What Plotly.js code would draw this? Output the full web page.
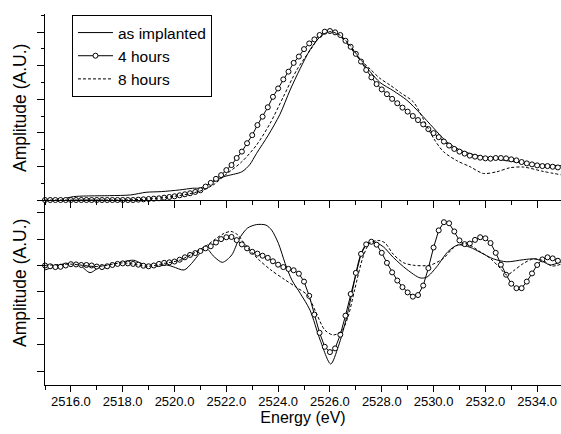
<!DOCTYPE html>
<html>
<head>
<meta charset="utf-8">
<script src="https://cdn.plot.ly/plotly-3.0.1.min.js"></script>
<style>html,body{margin:0;padding:0;background:#fff;}#chart{width:561px;height:434px;}</style>
</head>
<body>
<div id="chart"></div>
<script>
// ---- Data ----
const seriesNames = ['as implanted', '4 hours', '8 hours'];

// 4 hours: sampled points (circles), energies in eV
const energyGrid = [
 2515.0,2515.2,2515.4,2515.6,2515.8,2516.0,2516.2,2516.4,2516.6,2516.8,
 2517.0,2517.2,2517.4,2517.6,2517.8,2518.0,2518.2,2518.4,2518.6,2518.8,
 2519.0,2519.2,2519.4,2519.6,2519.8,2520.0,2520.2,2520.4,2520.6,2520.8,
 2521.0,2521.2,2521.4,2521.6,2521.8,2522.0,2522.2,2522.4,2522.6,2522.8,
 2523.0,2523.2,2523.4,2523.6,2523.8,2524.0,2524.2,2524.4,2524.6,2524.8,
 2525.0,2525.2,2525.4,2525.6,2525.8,2526.0,2526.2,2526.4,2526.6,2526.8,
 2527.0,2527.2,2527.4,2527.6,2527.8,2528.0,2528.2,2528.4,2528.6,2528.8,
 2529.0,2529.2,2529.4,2529.6,2529.8,2530.0,2530.2,2530.4,2530.6,2530.8,
 2531.0,2531.2,2531.4,2531.6,2531.8,2532.0,2532.2,2532.4,2532.6,2532.8,
 2533.0,2533.2,2533.4,2533.6,2533.8,2534.0,2534.2,2534.4,2534.6,2534.8
];
const topFourHours = [
 0.00,0.00,0.00,0.00,0.00,0.00,0.00,0.00,0.00,0.00,
 0.00,0.00,0.00,0.00,0.00,0.00,0.00,0.00,0.01,0.02,
 0.03,0.04,0.05,0.07,0.09,0.11,0.14,0.17,0.20,0.24,
 0.29,0.40,0.51,0.63,0.74,0.89,1.04,1.25,1.44,1.69,
 1.93,2.23,2.48,2.76,3.07,3.32,3.59,3.82,4.08,4.27,
 4.49,4.66,4.78,4.91,5.01,5.03,4.99,4.91,4.74,4.56,
 4.35,4.12,3.87,3.65,3.45,3.29,3.15,3.01,2.88,2.75,
 2.63,2.50,2.38,2.25,2.11,1.99,1.87,1.74,1.62,1.52,
 1.44,1.38,1.32,1.29,1.26,1.24,1.23,1.25,1.25,1.24,
 1.21,1.18,1.13,1.09,1.06,1.03,1.01,1.01,0.99,0.97
];
const botFourHours = [
 0.00,-0.03,-0.06,-0.05,0.00,0.05,0.04,0.02,0.02,0.00,
 -0.04,-0.06,-0.03,0.02,0.06,0.08,0.08,0.06,0.03,-0.01,
 -0.03,0.00,0.06,0.10,0.12,0.15,0.22,0.31,0.40,0.47,
 0.55,0.65,0.73,0.87,1.00,1.07,1.08,0.96,0.80,0.65,
 0.52,0.45,0.37,0.29,0.16,0.03,-0.06,-0.13,-0.18,-0.31,
 -0.61,-1.15,-1.86,-2.55,-3.08,-3.28,-3.14,-2.62,-1.90,-1.08,
 -0.28,0.44,0.80,0.90,0.79,0.48,0.10,-0.26,-0.57,-0.82,
 -1.02,-1.18,-1.12,-0.76,-0.10,0.68,1.33,1.64,1.60,1.29,
 0.95,0.81,0.83,0.97,1.07,1.03,0.85,0.48,0.03,-0.35,
 -0.69,-0.86,-0.86,-0.61,-0.30,0.02,0.23,0.31,0.27,0.18
];

// as implanted, top panel
const topAsImplantedE = [2515.0,2515.6,2516.1,2516.6,2517.5,2518.3,2518.9,2519.5,2520.2,2520.7,2521.0,2521.9,2522.6,2522.9,2523.17,2523.62,2524.07,2524.46,2524.85,2525.23,2525.62,2525.93,2526.26,2526.65,2527.16,2527.55,2527.93,2528.45,2528.97,2529.48,2529.99,2530.51,2531.02,2531.54,2532.05,2532.83,2533.6,2534.37,2534.92];
const topAsImplanted  = [0.00,0.02,0.10,0.12,0.13,0.15,0.23,0.25,0.30,0.35,0.36,0.69,0.84,1.05,1.39,1.93,2.55,3.27,3.91,4.47,4.86,5.01,4.96,4.66,4.17,3.82,3.50,3.25,2.97,2.58,2.15,1.73,1.49,1.35,1.26,1.17,1.09,1.04,1.02];

// 8 hours, top panel
const topEightHoursE = [2515.0,2516.0,2517.0,2518.0,2519.0,2520.0,2520.6,2521.0,2521.5,2521.87,2522.6,2523.17,2523.69,2524.2,2524.72,2525.23,2525.62,2526.0,2526.4,2526.8,2527.2,2527.55,2527.93,2528.32,2528.71,2529.22,2529.61,2529.99,2530.38,2530.9,2531.41,2531.92,2532.44,2532.95,2533.47,2534.24,2534.92];
const topEightHours  = [0.00,0.00,0.00,0.00,0.03,0.11,0.19,0.27,0.45,0.69,1.14,1.64,2.28,3.07,3.87,4.45,4.86,5.01,4.90,4.58,4.16,3.90,3.62,3.42,3.20,2.92,2.40,1.85,1.44,1.17,0.99,0.79,0.84,0.96,0.98,0.85,0.75];

// as implanted, bottom panel
const botAsImplantedE = [2515.0,2515.84,2516.35,2516.74,2517.12,2517.51,2518.41,2518.67,2519.17,2519.7,2519.95,2520.37,2520.66,2520.98,2521.22,2521.53,2521.85,2522.21,2522.49,2522.82,2523.17,2523.53,2523.75,2524.01,2524.27,2524.53,2524.85,2525.23,2525.62,2526.03,2526.32,2526.65,2526.9,2527.16,2527.42,2527.68,2528.06,2528.45,2528.97,2529.48,2529.74,2530.12,2530.56,2530.95,2531.41,2531.8,2532.31,2532.83,2533.47,2533.92,2534.24,2534.5,2534.92];
const botAsImplanted  = [-0.17,0.08,0.00,-0.27,-0.05,0.02,0.20,0.10,-0.05,0.02,-0.05,-0.17,0.08,0.46,0.65,0.33,0.12,0.40,1.00,1.42,1.55,1.53,1.34,0.84,0.08,-0.55,-1.05,-1.69,-2.82,-3.73,-3.08,-1.94,-0.80,0.33,0.84,0.90,0.71,0.30,-0.15,-0.47,-0.44,-0.05,0.53,0.78,0.69,0.50,0.25,0.14,0.22,0.25,0.14,0.02,0.14];

// 8 hours, bottom panel
const botEightHoursE = [2515.0,2516.0,2517.0,2518.0,2519.0,2519.6,2520.2,2520.8,2521.3,2521.53,2521.92,2522.18,2522.44,2522.69,2523.2,2523.72,2524.23,2524.74,2525.13,2525.47,2525.8,2526.12,2526.44,2526.7,2526.95,2527.28,2527.53,2527.86,2528.12,2528.45,2528.83,2529.22,2529.86,2530.38,2530.69,2530.9,2531.28,2531.8,2532.19,2532.57,2532.83,2533.09,2533.47,2533.86,2534.24,2534.57,2534.92];
const botEightHours  = [0.00,0.05,-0.04,0.10,-0.03,0.08,0.20,0.50,0.80,0.97,1.22,1.29,1.16,0.84,0.27,-0.17,-0.52,-0.85,-1.12,-1.80,-2.44,-2.63,-2.50,-1.94,-0.93,0.33,0.84,0.95,0.86,0.42,0.11,0.01,0.01,0.27,0.60,0.76,0.82,0.52,0.27,-0.10,-0.36,-0.20,0.08,0.25,0.18,-0.02,0.05];

const yTitle = 'Amplitude (A.U.)';
const xTitle = 'Energy (eV)';

// ---- Traces ----
const solidLine = {color:'#000', width:1, shape:'spline', smoothing:0.8};
const dashLine = {color:'#000', width:1, dash:'3px,2px', shape:'spline', smoothing:0.8};
const circleMarker = {symbol:'circle', size:5, color:'#fff', line:{color:'#000', width:1}};

const traces = [
 {x:topAsImplantedE, y:topAsImplanted, xaxis:'x2', yaxis:'y', mode:'lines', name:seriesNames[0], legendgroup:'a', line:solidLine},
 {x:energyGrid, y:topFourHours, xaxis:'x2', yaxis:'y', mode:'lines+markers', name:seriesNames[1], legendgroup:'b', line:{color:'#000', width:1}, marker:circleMarker, cliponaxis:false},
 {x:topEightHoursE, y:topEightHours, xaxis:'x2', yaxis:'y', mode:'lines', name:seriesNames[2], legendgroup:'c', line:dashLine},
 {x:botAsImplantedE, y:botAsImplanted, xaxis:'x', yaxis:'y2', mode:'lines', name:seriesNames[0], legendgroup:'a', showlegend:false, line:solidLine},
 {x:energyGrid, y:botFourHours, xaxis:'x', yaxis:'y2', mode:'lines+markers', name:seriesNames[1], legendgroup:'b', showlegend:false, line:{color:'#000', width:1}, marker:circleMarker, cliponaxis:false},
 {x:botEightHoursE, y:botEightHours, xaxis:'x', yaxis:'y2', mode:'lines', name:seriesNames[2], legendgroup:'c', showlegend:false, line:dashLine}
];

const split = 0.49865;
const xr = [2515, 2534.92];
const layout = {
 width:561, height:434,
 margin:{l:45, r:0, t:14, b:49, pad:0},
 paper_bgcolor:'#fff', plot_bgcolor:'#fff',
 font:{family:'"Liberation Sans", Arial, sans-serif', color:'#000'},
 showlegend:true,
 legend:{x:0.0523, y:0.9973, xanchor:'left', yanchor:'top', bordercolor:'#000', borderwidth:1, bgcolor:'#fff',
   font:{size:15.5, family:'"Liberation Sans", Arial, sans-serif'}, tracegroupgap:0, itemwidth:35},
 xaxis:{domain:[0,1], anchor:'y2', range:xr, showline:true, linecolor:'#000', linewidth:1,
   ticks:'outside', ticklen:6, tickwidth:1, tickcolor:'#000', tick0:2516, dtick:2, tickformat:'.1f',
   tickfont:{size:13}, ticklabelstandoff:-2,
   minor:{dtick:1, ticks:'outside', ticklen:3.5, tickwidth:1, tickcolor:'#000'},
   showgrid:false, zeroline:false,
   title:{text:xTitle, font:{size:16}, standoff:3}},
 xaxis2:{domain:[0,1], anchor:'y', matches:'x', range:xr, showline:true, linecolor:'#000', linewidth:1,
   ticks:'outside', ticklen:7, tickwidth:1, tickcolor:'#000', tick0:2516, dtick:2, showticklabels:false,
   minor:{dtick:1, ticks:'outside', ticklen:4, tickwidth:1, tickcolor:'#000'},
   showgrid:false, zeroline:false},
 yaxis:{domain:[split,1], anchor:'x2', range:[0,5.536], showline:true, linecolor:'#000', linewidth:1,
   ticks:'outside', ticklen:7, tickwidth:1, tickcolor:'#000', tick0:0, dtick:1, showticklabels:false,
   minor:{dtick:0.5, ticks:'outside', ticklen:3.5, tickwidth:1, tickcolor:'#000'},
   showgrid:false, zeroline:false},
 yaxis2:{domain:[0,split], anchor:'x', range:[-4.527,2.481], showline:true, linecolor:'#000', linewidth:1,
   ticks:'outside', ticklen:7, tickwidth:1, tickcolor:'#000', tick0:0, dtick:1, showticklabels:false,
   showgrid:false, zeroline:false},
 annotations:[
  {text:yTitle, xref:'paper', yref:'paper', x:-0.0484, y:0.7466, textangle:-90, showarrow:false, xanchor:'center', yanchor:'middle', font:{size:17.5}},
  {text:yTitle, xref:'paper', yref:'paper', x:-0.0484, y:0.275, textangle:-90, showarrow:false, xanchor:'center', yanchor:'middle', font:{size:17.5}}
 ]
};

Plotly.newPlot('chart', traces, layout, {displayModeBar:false, staticPlot:true});
</script>
</body>
</html>
